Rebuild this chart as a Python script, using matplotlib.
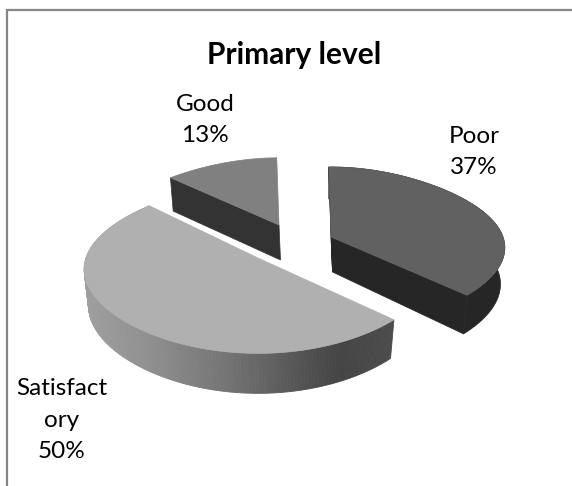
import numpy as np
import matplotlib
matplotlib.use("Agg")
import matplotlib.pyplot as plt
from matplotlib.patches import Polygon

title = "Primary level"
categories = ["Poor", "Satisfactory", "Good"]
values = [37, 50, 13]
label_lines = ["Poor\n37%", "Satisfact\nory\n50%", "Good\n13%"]

W, H = 572, 486
fig = plt.figure(figsize=(W / 100, H / 100), dpi=100)
ax = fig.add_axes([0, 0, 1, 1])
ax.set_xlim(0, W)
ax.set_ylim(H, 0)
ax.axis("off")
FONT = "Lato"

layout = {
    "Poor": dict(c=(331, 237), top="#616161", side="#262626", ys=1.0),
    "Satisfactory": dict(c=(258, 258), top="#B0B0B0", side=None, ys=1.06),
    "Good": dict(c=(279, 225), top="#808080", side="#333333", ys=0.96),
}


def project(theta_deg, c, ys=1.0, drop=False):
    t = np.radians(theta_deg)
    u, v = np.sin(t), np.cos(t)
    x = 172 * (1 - 0.16 * v - 0.09 * v * v) * u
    y = -80 * ys * (1 - 0.125 * v) * v
    d = 0.0
    if drop:
        x = x * 0.975
        d = 36 * (1 - 0.11 * v)
    return c[0] + x, c[1] + y + d


def apex(c, drop=False):
    return (c[0] + (1.5 if drop else 0), c[1] + (35 if drop else 0))


def ramp(x):
    stops_x = [86, 150, 230, 300, 340, 396]
    stops_g = [0.62, 0.56, 0.45, 0.33, 0.27, 0.30]
    g = np.interp(x, stops_x, stops_g)
    return (g, g, g)


edges = np.cumsum([0] + values) * 3.6 - 1.0
spans = {n: (edges[i], edges[i + 1]) for i, n in enumerate(categories)}

for name in ["Good", "Poor", "Satisfactory"]:
    a0, a1 = spans[name]
    L = layout[name]
    c, ys = L["c"], L["ys"]
    th = np.linspace(a0, a1, 160)
    tx, ty = project(th, c, ys)
    bx, by = project(th, c, ys, drop=True)
    ax_top = apex(c)
    ax_bot = apex(c, drop=True)
    z = {"Good": 2, "Poor": 2, "Satisfactory": 3}[name]
    if name == "Satisfactory":
        for i in range(len(th) - 1):
            pts = [(tx[i], ty[i]), (tx[i + 1], ty[i + 1]), (bx[i + 1], by[i + 1]), (bx[i], by[i])]
            col = ramp((tx[i] + tx[i + 1]) / 2)
            ax.add_patch(Polygon(pts, closed=True, fc=col, ec=col, lw=0.6, zorder=z))
    else:
        side = L["side"]
        if name == "Poor":
            ax.add_patch(Polygon(list(zip(tx, ty)) + list(zip(bx[::-1], by[::-1])), closed=True, fc=side, ec=side, lw=0.5, zorder=z))
            ax.add_patch(Polygon([ax_top, (tx[-1], ty[-1]), (bx[-1], by[-1]), ax_bot], closed=True, fc=side, ec=side, lw=0.5, zorder=z))
            ax.add_patch(Polygon([ax_top, (tx[0], ty[0]), ax_bot], closed=True, fc=side, ec=side, lw=0.5, zorder=z))
        else:
            ax.add_patch(Polygon([ax_top, (tx[0], ty[0]), (bx[0], by[0]), ax_bot], closed=True, fc=side, ec=side, lw=0.5, zorder=z))
    ax.add_patch(Polygon([ax_top] + list(zip(tx, ty)), closed=True, fc=L["top"], ec=L["top"], lw=0.5, zorder=z + 0.5))

ax.plot([7, 7, 572], [H, 10, 10], color="#868686", lw=1.6, zorder=5, solid_joinstyle="miter")

ax.text(294, 55, title, fontsize=21.5, fontweight="bold", family=FONT, ha="center", va="center", color="black")

label_pos = {"Poor": (474, 152), "Satisfactory": (62, 420), "Good": (205, 120)}
for name, txt in zip(categories, label_lines):
    x, y = label_pos[name]
    ax.text(x, y, txt, fontsize=17.5, family=FONT, ha="center", va="center", linespacing=1.62, color="black")

fig.savefig("out.png", dpi=100)
